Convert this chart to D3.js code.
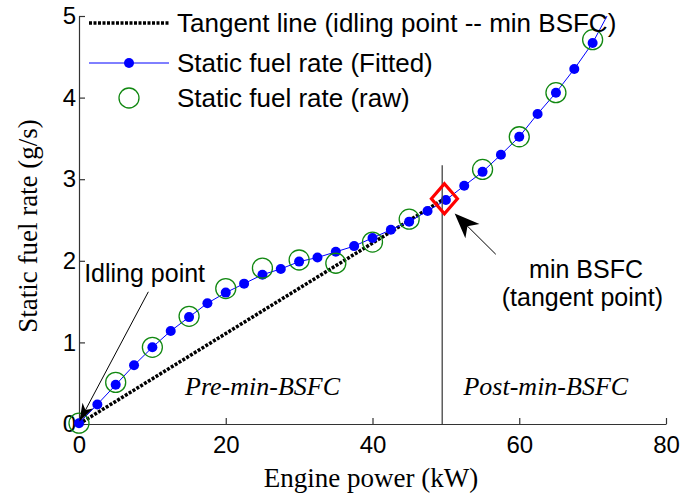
<!DOCTYPE html>
<html>
<head>
<meta charset="utf-8">
<script src="https://cdn.jsdelivr.net/npm/d3@7"></script>
<style>
  body { margin: 0; background: #fff; }
  svg { display: block; }
  .tick text { font-family: Arial, "Liberation Sans", sans-serif; font-size: 24px; fill: #000; }
  .axis path, .axis line { stroke: #333; stroke-width: 1.2px; }
</style>
</head>
<body>
<div id="chart"></div>
<script>
// engine power (kW) at which the fitted curve is sampled
var fittedPower = [0, 2.5, 5, 7.5, 10, 12.5, 15, 17.5, 20, 22.5, 25, 27.5, 30, 32.5, 35,
  37.5, 40, 42.5, 45, 47.5, 50, 52.5, 55, 57.5, 60, 62.5, 65, 67.5, 70, 72.5];
// static fuel rate, fitted (g/s)
var fittedRate = [0.01, 0.24, 0.48, 0.72, 0.94, 1.14, 1.31, 1.48, 1.61, 1.72, 1.83, 1.90, 1.99, 2.04, 2.11,
  2.18, 2.28, 2.38, 2.48, 2.61, 2.745, 2.92, 3.09, 3.30, 3.52, 3.80, 4.06, 4.35, 4.67, 5.09];
// raw measurements
var rawPower = [0, 5, 10, 15, 20, 25, 30, 35, 40, 45, 55, 60, 65, 70];
var rawRate = [0.01, 0.51, 0.94, 1.32, 1.66, 1.91, 2.01, 1.97, 2.23, 2.51, 3.12, 3.52, 4.06, 4.71];
// tangent line: idling point -> min BSFC point
var idlingPoint = [0, 0];
var tangentPoint = [49.8, 2.76];
var boundaryPower = 49.5;
var boundaryTop = 3.17;
var xTicks = [0, 20, 40, 60, 80];
var yTicks = [0, 1, 2, 3, 4, 5];
var legendLabels = ["Tangent line (idling point -- min BSFC)", "Static fuel rate (Fitted)", "Static fuel rate (raw)"];

var W = 697, H = 500;
var margin = {top: 16, right: 31, bottom: 76, left: 79},
    width = W - margin.left - margin.right,
    height = H - margin.top - margin.bottom;

var svg = d3.select("#chart").append("svg")
    .attr("width", W)
    .attr("height", H);

var x = d3.scaleLinear().domain([0, 80]).range([margin.left, margin.left + width]);
var y = d3.scaleLinear().domain([0, 5]).range([margin.top + height, margin.top]);

svg.append("defs").append("clipPath").attr("id", "plotclip")
  .append("rect")
    .attr("x", margin.left).attr("y", margin.top)
    .attr("width", width).attr("height", height);

// axes, ticks pointing inward like matlab
svg.append("g")
    .attr("class", "axis")
    .attr("transform", "translate(0," + y(0) + ")")
    .call(d3.axisBottom(x).tickValues(xTicks).tickFormat(d3.format("d"))
      .tickSizeInner(-6).tickSizeOuter(0).tickPadding(12));

svg.append("g")
    .attr("class", "axis")
    .attr("transform", "translate(" + x(0) + ",0)")
    .call(d3.axisLeft(y).tickValues(yTicks).tickFormat(d3.format("d"))
      .tickSizeInner(-6).tickSizeOuter(0).tickPadding(3));

var fitted = fittedPower.map(function(p, i){ return {p: p, r: fittedRate[i]}; });
var raw = rawPower.map(function(p, i){ return {p: p, r: rawRate[i]}; });
// markers are only drawn when their centre is inside the axes
function inside(d){ return d.p >= 0 && d.p <= 80 && d.r >= 0 && d.r <= 5; }

var plot = svg.append("g").attr("clip-path", "url(#plotclip)");

// tangent line
plot.append("line")
    .attr("x1", x(idlingPoint[0])).attr("y1", y(idlingPoint[1]))
    .attr("x2", x(tangentPoint[0])).attr("y2", y(tangentPoint[1]))
    .attr("stroke", "#000")
    .attr("stroke-width", 3.5)
    .attr("stroke-dasharray", "3,1.5");

// fitted curve
plot.append("path")
    .datum(fitted)
    .attr("fill", "none")
    .attr("stroke", "#0000ff")
    .attr("stroke-width", 1)
    .attr("d", d3.line().x(function(d){ return x(d.p); }).y(function(d){ return y(d.r); }));

svg.selectAll(".fitdot")
    .data(fitted.filter(inside))
    .enter().append("circle")
    .attr("class", "fitdot")
    .attr("cx", function(d){ return x(d.p); })
    .attr("cy", function(d){ return y(d.r); })
    .attr("r", 5)
    .attr("fill", "#0000ff");

// raw data
svg.selectAll(".rawdot")
    .data(raw.filter(inside))
    .enter().append("circle")
    .attr("class", "rawdot")
    .attr("cx", function(d){ return x(d.p); })
    .attr("cy", function(d){ return y(d.r); })
    .attr("r", 10)
    .attr("fill", "none")
    .attr("stroke", "#118811")
    .attr("stroke-width", 1.3);

// pre/post boundary
svg.append("line")
    .attr("x1", x(boundaryPower)).attr("x2", x(boundaryPower))
    .attr("y1", y(boundaryTop)).attr("y2", y(0))
    .attr("stroke", "#444")
    .attr("stroke-width", 1.3);

// min BSFC diamond
var tx = x(tangentPoint[0]), ty = y(tangentPoint[1]);
svg.append("path")
    .attr("d", "M" + tx + "," + (ty - 15) + "L" + (tx + 13) + "," + ty + "L" + tx + "," + (ty + 15) + "L" + (tx - 13) + "," + ty + "Z")
    .attr("fill", "none")
    .attr("stroke", "#ff0000")
    .attr("stroke-width", 3.2);

// arrow with notched head
function arrow(from, to, len, half, notch) {
  var x1 = x(from[0]), y1 = y(from[1]), x2 = x(to[0]), y2 = y(to[1]);
  var dx = x2 - x1, dy = y2 - y1, d = Math.sqrt(dx*dx + dy*dy);
  var ux = dx / d, uy = dy / d, nx = -uy, ny = ux;
  var bx = x2 - ux*len, by = y2 - uy*len;
  svg.append("line")
      .attr("x1", x1).attr("y1", y1)
      .attr("x2", x2 - ux*len*0.6).attr("y2", y2 - uy*len*0.6)
      .attr("stroke", "#000").attr("stroke-width", 1);
  svg.append("path")
      .attr("d", "M" + x2 + "," + y2 +
        "L" + (bx + nx*half) + "," + (by + ny*half) +
        "L" + (x2 - ux*(len - notch)) + "," + (y2 - uy*(len - notch)) +
        "L" + (bx - nx*half) + "," + (by - ny*half) + "Z")
      .attr("fill", "#000");
}
arrow([9.45, 1.62], [0.05, 0.03], 18, 6, 5);
arrow([56.8, 2.08], [51.2, 2.58], 25, 10, 7);

// annotations
var sans = "Arial, 'Liberation Sans', sans-serif";
var serif = "'Times New Roman', 'Liberation Serif', serif";

svg.append("text")
    .attr("x", x(0.7)).attr("y", y(1.74))
    .style("font-family", sans).style("font-size", "25px")
    .text("Idling point");

svg.append("text")
    .attr("x", x(69.1)).attr("y", y(1.79))
    .attr("text-anchor", "middle")
    .style("font-family", sans).style("font-size", "25px")
    .text("min BSFC");

svg.append("text")
    .attr("x", x(68.6)).attr("y", y(1.44))
    .attr("text-anchor", "middle")
    .style("font-family", sans).style("font-size", "25px")
    .text("(tangent point)");

svg.append("text")
    .attr("x", x(14.45)).attr("y", y(0.35))
    .style("font-family", serif).style("font-size", "26px").style("font-style", "italic")
    .text("Pre-min-BSFC");

svg.append("text")
    .attr("x", x(52.4)).attr("y", y(0.35))
    .style("font-family", serif).style("font-size", "26px").style("font-style", "italic")
    .text("Post-min-BSFC");

// axis titles
svg.append("text")
    .attr("x", 371).attr("y", 487)
    .attr("text-anchor", "middle")
    .style("font-family", serif).style("font-size", "27px")
    .text("Engine power (kW)");

svg.append("text")
    .attr("transform", "translate(37,226) rotate(-90)")
    .attr("text-anchor", "middle")
    .style("font-family", serif).style("font-size", "27px")
    .text("Static fuel rate (g/s)");

// legend
var legend = svg.append("g");
var rowY = [23, 63, 98];

legend.append("line")
    .attr("x1", 89).attr("x2", 169).attr("y1", rowY[0]).attr("y2", rowY[0])
    .attr("stroke", "#000").attr("stroke-width", 3.5).attr("stroke-dasharray", "3,1.5");

legend.append("line")
    .attr("x1", 89).attr("x2", 169).attr("y1", rowY[1]).attr("y2", rowY[1])
    .attr("stroke", "#0000ff").attr("stroke-width", 1);
legend.append("circle")
    .attr("cx", 129).attr("cy", rowY[1]).attr("r", 5).attr("fill", "#0000ff");

legend.append("circle")
    .attr("cx", 129).attr("cy", rowY[2]).attr("r", 10)
    .attr("fill", "none").attr("stroke", "#118811").attr("stroke-width", 1.3);

legend.selectAll(".leglabel")
    .data(legendLabels)
    .enter().append("text")
    .attr("class", "leglabel")
    .attr("x", 177)
    .attr("y", function(d, i){ return rowY[i]; })
    .attr("dy", "0.35em")
    .style("font-family", sans).style("font-size", "26px")
    .text(function(d){ return d; });
</script>
</body>
</html>
